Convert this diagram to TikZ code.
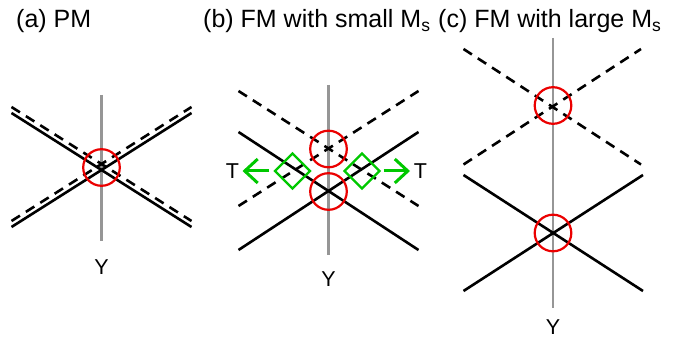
\documentclass[tikz,border=0pt]{standalone}
\usepackage{fontspec}
\setmainfont{Liberation Sans}
\usetikzlibrary{arrows.meta,shapes.geometric}
\definecolor{myred}{RGB}{235,0,0}
\definecolor{mygreen}{RGB}{0,200,0}
\definecolor{mygray}{RGB}{150,150,150}
\begin{document}
\begin{tikzpicture}[x=1pt,y=-1pt,
  solidline/.style={line width=2.6pt,black},
  dashline/.style={line width=2.6pt,black,dash pattern=on 10pt off 7pt},
  axisline/.style={line width=2.2pt,mygray},
  ring/.style={circle,draw=myred,line width=2.2pt,minimum size=36.6pt,inner sep=0pt},
  dia/.style={diamond,draw=mygreen,line width=2.2pt,minimum size=36pt,inner sep=0pt},
  garrow/.style={draw=mygreen,line width=3pt,-{Straight Barb[length=13pt,width=24pt,line width=3pt]}},
  lbl/.style={font=\fontsize{21.5}{24}\selectfont,inner sep=0pt},
  ttl/.style={font=\fontsize{25}{28}\selectfont,inner sep=0pt,anchor=base west}]
\useasboundingbox (0,0) rectangle (685,339);
% titles
\node[ttl] (ta) at (16,28) {(a) PM};
\node[ttl] (tb) at (203,28) {(b) FM with small M\textsubscript{s}};
\node[ttl] (tc) at (438,28) {(c) FM with large M\textsubscript{s}};
% ---------- panel (a)
\coordinate (aT) at (101.5,95);
\coordinate (aB) at (101.5,241);
\draw[axisline] (aT) -- (aB);
\coordinate (a1) at (11.5,113);
\coordinate (a2) at (191.5,227);
\coordinate (a3) at (11.5,227);
\coordinate (a4) at (191.5,113);
\draw[solidline] (a1) -- (a2);
\draw[solidline] (a3) -- (a4);
\coordinate (ad1) at (11.5,107);
\coordinate (ad2) at (191.5,221);
\coordinate (ad3) at (11.5,221);
\coordinate (ad4) at (191.5,107);
\draw[dashline] (ad1) -- (ad2);
\draw[dashline] (ad3) -- (ad4);
\node[ring] (ca) at (101.5,167.5) {};
\node[lbl] (ya) at (101.5,267) {Y};
% ---------- panel (b)
\coordinate (bT) at (328.5,85);
\coordinate (bB) at (328.5,255);
\draw[axisline] (bT) -- (bB);
\coordinate (b1) at (238.5,132);
\coordinate (b2) at (418.5,250);
\coordinate (b3) at (238.5,250);
\coordinate (b4) at (418.5,132);
\draw[solidline] (b1) -- (b2);
\draw[solidline] (b3) -- (b4);
\coordinate (bd1) at (238.5,91);
\coordinate (bd2) at (418.5,206);
\coordinate (bd3) at (238.5,206);
\coordinate (bd4) at (418.5,91);
\draw[dashline] (bd1) -- (bd2);
\draw[dashline] (bd3) -- (bd4);
\node[ring] (cb1) at (328.5,149) {};
\node[ring] (cb2) at (328.5,191.5) {};
\node[dia] (dl) at (292.5,171) {};
\node[dia] (dr) at (362,171) {};
\node[lbl] (tl) at (232.5,171.5) {T};
\node[lbl] (tr) at (420.5,171.5) {T};
\coordinate (gl0) at (269,171);
\coordinate (gl1) at (242.5,171);
\coordinate (gr0) at (383.5,171);
\coordinate (gr1) at (410,171);
\draw[garrow] (gl0) -- (gl1);
\draw[garrow] (gr0) -- (gr1);
\node[lbl] (yb) at (328.5,279) {Y};
% ---------- panel (c)
\coordinate (cT) at (553,38);
\coordinate (cB) at (553,308);
\draw[axisline] (cT) -- (cB);
\coordinate (c1) at (463.5,49);
\coordinate (c2) at (641,164.5);
\coordinate (c3) at (463.5,164.5);
\coordinate (c4) at (641,49);
\draw[dashline] (c1) -- (c2);
\draw[dashline] (c3) -- (c4);
\coordinate (c5) at (463.5,175);
\coordinate (c6) at (643,291);
\coordinate (c7) at (463.5,291);
\coordinate (c8) at (643,175);
\draw[solidline] (c5) -- (c6);
\draw[solidline] (c7) -- (c8);
\node[ring] (cc1) at (553,105.5) {};
\node[ring] (cc2) at (553,233) {};
\node[lbl] (yc) at (553,327) {Y};
\end{tikzpicture}
\end{document}
